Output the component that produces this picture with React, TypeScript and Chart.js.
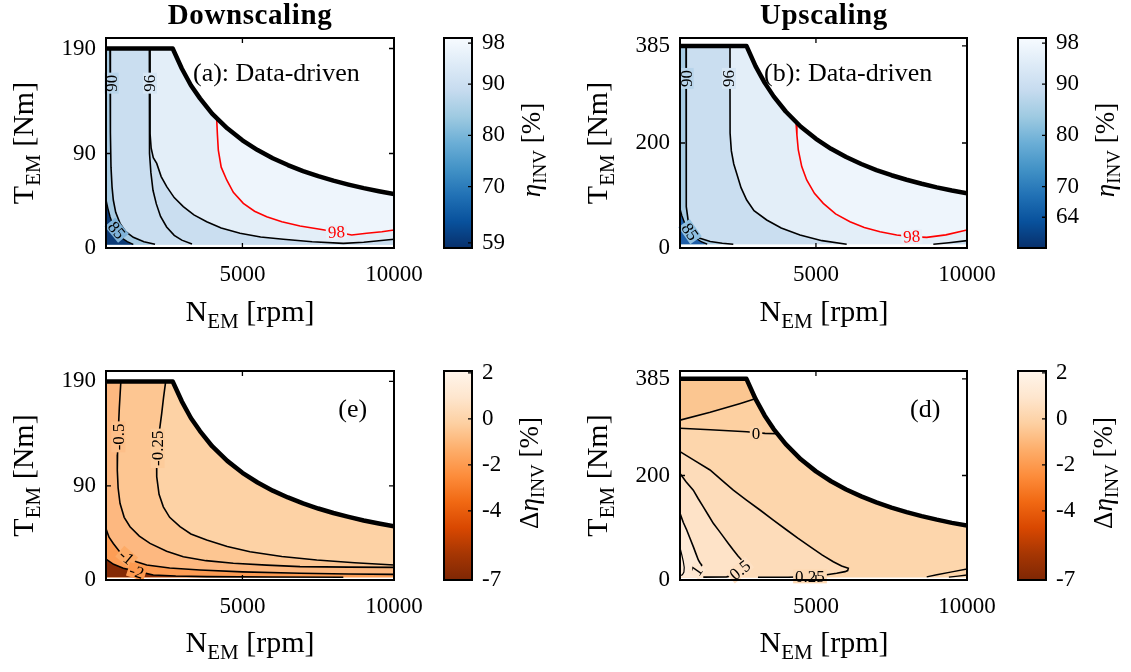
import React, { useEffect, useRef } from "react";
import { Chart, registerables } from "chart.js";

Chart.register(...registerables);

type P = [number, number];

const SERIF = '"Liberation Serif", "Times New Roman", serif';

// ---------------- shared data ----------------
const SPEED_RANGE = [500, 10000];

const ENV_N = [500, 2700, 3000, 3300, 3600, 4000, 4500, 5000, 5500, 6000, 6500, 7000, 7500, 8000, 8500, 9000, 9500, 10000];
const ENV_T_DOWN = [190, 190, 171, 155, 142.5, 128, 114, 102.6, 93.3, 85.5, 79, 73.3, 68.4, 64.1, 60.4, 57, 54, 51.3];
const ENV_T_UP = [385, 385, 346.5, 315, 288.8, 260, 231, 207.9, 189, 173.3, 160, 148.5, 138.6, 130, 122.3, 115.5, 109.4, 104];

const ETA_RANGE = [58, 99];
const ETA_TICKS_DOWN = [59, 70, 80, 90, 98];
const ETA_TICKS_UP = [64, 70, 80, 90, 98];
const DELTA_RANGE = [-7, 2.08];
const DELTA_TICKS = [-7, -4, -2, 0, 2];

const BLUES = ["#f7fbff", "#deebf7", "#c6dbef", "#9ecae1", "#6baed6", "#4292c6", "#2171b5", "#08519c", "#08306b"];
const ORANGES = ["#fff5eb", "#fee6ce", "#fdd0a2", "#fdae6b", "#fd8d3c", "#f16913", "#d94801", "#a63603", "#7f2704"];

// ---------------- (a) downscaling, efficiency ----------------
const A_T_TICKS = [0, 90, 190];
const A_TMIN = 3;
const A_C85: P[] = [[500, 46], [560, 38], [632, 30], [720, 22.5], [853, 15.5], [1000, 10], [1200, 6], [1400, 3.5]];
const A_C90: P[] = [[632, 190], [640, 150], [650, 110], [665, 77], [700, 58], [741, 45.7], [820, 34], [962, 23.5], [1150, 15.5], [1401, 10.2], [1750, 6], [2117, 3.5]];
const A_C95: P[] = [[1930, 190], [1930, 140], [1932, 109], [1945, 90], [1980, 72], [2050, 55], [2160, 42], [2300, 30], [2500, 20], [2750, 12], [3000, 7.5], [3337, 3.8]];
const A_C96: P[] = [[1952, 190], [1952, 140], [1955, 109], [1990, 95], [2060, 86], [2173, 80.6], [2320, 68], [2503, 58.4], [2750, 48], [3050, 39.4], [3400, 31.5], [3822, 25], [4300, 19], [4921, 14], [5600, 10.5], [6349, 8.3], [7300, 6], [8329, 4.4], [9000, 5.5], [10000, 8.3]];
const A_C98: P[] = [[4150, 123.6], [4175, 108], [4205, 93.3], [4300, 77], [4482, 64.8], [4700, 53], [5030, 42.5], [5400, 35], [5801, 29.8], [6300, 25], [6900, 21], [7560, 17.8], [8100, 15.2], [8605, 12.4], [9100, 14], [9600, 15.5], [10000, 17.1]];

// ---------------- (b) upscaling, efficiency ----------------
const B_T_TICKS = [0, 200, 385];
const B_TMIN = 7;
const B_C85: P[] = [[500, 75], [560, 62], [650, 48], [740, 38], [831, 31], [1000, 20], [1200, 12], [1400, 7.5]];
const B_C90: P[] = [[699, 385], [699, 300], [699, 200], [702, 130], [710, 100], [730, 78.7], [770, 52], [831, 34.3], [950, 25], [1162, 18.4], [1500, 12.5], [1900, 9], [2264, 7.2]];
const B_C96: P[] = [[2155, 385], [2155, 300], [2158, 218.5], [2200, 185], [2280, 160], [2377, 142], [2520, 115], [2708, 91.4], [2950, 71], [3370, 53.3], [3850, 38], [4472, 24.8], [5200, 14], [6018, 7.2]];
const B_C96R: P[] = [[8885, 7.2], [9400, 10], [10000, 14]];
const B_C98: P[] = [[4340, 239], [4370, 215], [4416, 186.7], [4530, 155], [4694, 129.5], [4950, 104], [5243, 85], [5650, 65], [6127, 50], [6600, 39], [7120, 31], [7673, 24.8], [8170, 21.6], [8666, 20.3], [9300, 25], [10000, 34.3]];

// ---------------- (e) downscaling, efficiency difference ----------------
const E_T_TICKS = [0, 90, 190];
const E_TMIN = 2.6;
const E_CM025: P[] = [[2469, 190], [2400, 175], [2338, 159.5], [2250, 140], [2193, 127.6], [2170, 110], [2173, 98.9], [2250, 82], [2391, 70], [2600, 60], [2941, 51], [3300, 44], [3822, 38.3], [4500, 32], [5250, 27], [6300, 22.5], [7451, 19.1], [8700, 16.5], [10000, 14.4]];
const E_CM05: P[] = [[990, 190], [940, 165], [906, 143.5], [880, 120], [873, 105], [900, 88], [962, 73.4], [1100, 60], [1292, 51], [1600, 42], [1952, 35], [2500, 27.5], [3050, 22.3], [3800, 18.5], [4700, 16], [5800, 14.2], [6900, 12.8], [8500, 12.3], [10000, 12.1]];
const E_CM1: P[] = [[500, 49], [600, 41], [741, 35], [950, 27], [1183, 22.3], [1500, 17.5], [1843, 14.4], [2600, 11.5], [3601, 9.6], [5000, 7.8], [6900, 6.4], [8500, 5.8], [10000, 5.4]];
const E_CM2: P[] = [[500, 20], [750, 15], [1071, 11.2], [1566, 8], [2060, 4.8], [2800, 3.8], [3822, 3.2], [6000, 2.8], [8329, 2.6]];

// ---------------- (d) upscaling, efficiency difference ----------------
const D_T_TICKS = [0, 200, 385];
const D_TMIN = 5;
const D_CM025: P[] = [[500, 306], [1500, 321], [2500, 338], [2990, 347]];
const D_C0: P[] = [[500, 290.3], [1500, 287.5], [2708, 283.8], [3314, 280.7], [3712, 280]];
const D_C025: P[] = [[500, 245.6], [1000, 228], [1493, 210.5], [1900, 190], [2265, 172], [2700, 153], [3148, 134], [3600, 114], [4032, 95.7], [4400, 80], [4803, 63.8], [5200, 48], [5574, 35], [5850, 27], [6071, 22.3], [6050, 18], [5962, 16], [5686, 12.8], [5300, 9.5], [4800, 6.5], [4080, 5.2], [3080, 5.2]];
const D_C05: P[] = [[500, 204], [700, 188], [940, 172], [1100, 156], [1271, 140], [1440, 124], [1602, 108.5], [1780, 95], [1933, 83], [2100, 70], [2264, 57.4], [2420, 46], [2540, 38.3], [2652, 32], [2620, 24], [2486, 17], [2300, 10], [2046, 6], [1271, 5.5]];
const D_C1: P[] = [[500, 127.6], [610, 110], [722, 95.7], [830, 80], [940, 63.8], [1030, 50], [1106, 38.3], [1160, 33], [1218, 28.7], [1150, 20], [1050, 15]];
const D_C2: P[] = [[500, 62], [560, 48], [610, 35], [640, 24], [630, 15], [580, 10], [500, 8.5]];
const D_CR1: P[] = [[8666, 6], [9000, 10], [9500, 15.5], [10000, 21]];
const D_CR2: P[] = [[9400, 5.5], [9700, 7.5], [10000, 9.5]];

// ---------------- helpers ----------------
const envelope = (T: number[]): P[] => ENV_N.map((n, i) => [n, T[i]] as P);
const envBetween = (T: number[], lo: number, hi: number): P[] => envelope(T).filter(([n]) => n > lo && n < hi);
const envRegion = (T: number[], tmin: number): P[] => [[ENV_N[0], tmin], ...envelope(T), [ENV_N[ENV_N.length - 1], tmin]];
const last = (a: P[]) => a[a.length - 1];

type LineSpec = { pts: P[]; color: string; width: number };
type RegionSpec = { pts: P[]; color: string };
type LabelSpec = { text: string; x: number; y: number; rot: number; color: string; bg: string };
type PanelSpec = {
  key: string;
  left: number; top: number; width: number; height: number;
  yMax: number; yTicks: number[];
  envelope: P[];
  regions: RegionSpec[];
  lines: LineSpec[];
  labels: LabelSpec[];
  note: { text: string; x: number; y: number };
};

const K = "#000000";
const RED = "#ff0000";

const PANEL_A: PanelSpec = {
  key: "a", left: 106, top: 38, width: 288, height: 210, yMax: 200, yTicks: A_T_TICKS,
  envelope: envelope(ENV_T_DOWN),
  regions: [
    { pts: envRegion(ENV_T_DOWN, A_TMIN), color: "#eef5fc" },
    { pts: [[500, 190], [2700, 190], ...envBetween(ENV_T_DOWN, 2700, A_C98[0][0]), ...A_C98, [10000, A_TMIN], [500, A_TMIN]], color: "#e3eef8" },
    { pts: [[500, 190], ...A_C96, [10000, A_TMIN], [500, A_TMIN]], color: "#cadef0" },
    { pts: [[500, 190], ...A_C90, [last(A_C90)[0], A_TMIN], [500, A_TMIN]], color: "#a7cbe3" },
    { pts: [...A_C85, [last(A_C85)[0], A_TMIN], [500, A_TMIN]], color: "#0c3b77" },
  ],
  lines: [
    { pts: A_C98, color: RED, width: 1.6 },
    { pts: A_C96, color: K, width: 1.6 },
    { pts: A_C95, color: K, width: 1.6 },
    { pts: A_C90, color: K, width: 1.6 },
    { pts: A_C85, color: K, width: 1.4 },
  ],
  labels: [
    { text: "90", x: 688, y: 157, rot: -90, color: K, bg: "#b8d4ea" },
    { text: "96", x: 1952, y: 157, rot: -90, color: K, bg: "#d6e6f4" },
    { text: "85", x: 853, y: 17, rot: 50, color: K, bg: "#7fb2d8" },
    { text: "98", x: 8100, y: 15.2, rot: -3, color: RED, bg: "#e8f1f9" },
  ],
  note: { text: "(a): Data-driven", x: 3370, y: 159 },
};

const PANEL_B: PanelSpec = {
  key: "b", left: 680, top: 38, width: 287, height: 210, yMax: 400, yTicks: B_T_TICKS,
  envelope: envelope(ENV_T_UP),
  regions: [
    { pts: envRegion(ENV_T_UP, B_TMIN), color: "#eef5fc" },
    { pts: [[500, 385], [2700, 385], ...envBetween(ENV_T_UP, 2700, B_C98[0][0]), ...B_C98, [10000, B_TMIN], [500, B_TMIN]], color: "#e3eef8" },
    { pts: [[500, 385], ...B_C96, [last(B_C96)[0], B_TMIN], [500, B_TMIN]], color: "#cadef0" },
    { pts: [...B_C96R, [10000, B_TMIN]], color: "#cadef0" },
    { pts: [[500, 385], ...B_C90, [last(B_C90)[0], B_TMIN], [500, B_TMIN]], color: "#a7cbe3" },
    { pts: [...B_C85, [last(B_C85)[0], B_TMIN], [500, B_TMIN]], color: "#1f5fa8" },
  ],
  lines: [
    { pts: B_C98, color: RED, width: 1.6 },
    { pts: B_C96, color: K, width: 1.6 },
    { pts: B_C96R, color: K, width: 1.6 },
    { pts: B_C90, color: K, width: 1.6 },
    { pts: B_C85, color: K, width: 1.4 },
  ],
  labels: [
    { text: "90", x: 722, y: 323, rot: -90, color: K, bg: "#b8d4ea" },
    { text: "96", x: 2120, y: 323, rot: -90, color: K, bg: "#d6e6f4" },
    { text: "85", x: 831, y: 31, rot: 55, color: K, bg: "#8fbfe0" },
    { text: "98", x: 8170, y: 21.6, rot: -3, color: RED, bg: "#e8f1f9" },
  ],
  note: { text: "(b): Data-driven", x: 3280, y: 318 },
};

const PANEL_E: PanelSpec = {
  key: "e", left: 106, top: 371, width: 288, height: 209, yMax: 200, yTicks: E_T_TICKS,
  envelope: envelope(ENV_T_DOWN),
  regions: [
    { pts: envRegion(ENV_T_DOWN, E_TMIN), color: "#fdd2a5" },
    { pts: [[500, 190], ...E_CM025, [10000, E_TMIN], [500, E_TMIN]], color: "#fdc692" },
    { pts: [[500, 190], ...E_CM05, [10000, E_TMIN], [500, E_TMIN]], color: "#fdb880" },
    { pts: [...E_CM1, [10000, E_TMIN], [500, E_TMIN]], color: "#fd9d55" },
    { pts: [...E_CM2, [500, E_TMIN]], color: "#842a05" },
  ],
  lines: [
    { pts: E_CM025, color: K, width: 1.6 },
    { pts: E_CM05, color: K, width: 1.6 },
    { pts: E_CM1, color: K, width: 1.6 },
    { pts: E_CM2, color: K, width: 1.6 },
  ],
  labels: [
    { text: "-0.5", x: 906, y: 137, rot: -90, color: K, bg: "#fdbf89" },
    { text: "-0.25", x: 2200, y: 126, rot: -90, color: K, bg: "#fdcc9b" },
    { text: "-1", x: 1183, y: 22, rot: 40, color: K, bg: "#fdab67" },
    { text: "-2", x: 1513, y: 8, rot: 18, color: K, bg: "#fd9a50" },
  ],
  note: { text: "(e)", x: 8160, y: 156 },
};

const PANEL_D: PanelSpec = {
  key: "d", left: 680, top: 371, width: 287, height: 209, yMax: 400, yTicks: D_T_TICKS,
  envelope: envelope(ENV_T_UP),
  regions: [
    { pts: envRegion(ENV_T_UP, D_TMIN), color: "#fdd6ac" },
    { pts: [[500, 306], ...D_CM025.slice(1), ...envBetween(ENV_T_UP, 2990, 3712), ...[...D_C0].reverse()], color: "#fdd0a1" },
    { pts: [[500, 385], [2700, 385], ...[...D_CM025].reverse()], color: "#fbc691" },
    { pts: [...D_C025, [last(D_C025)[0], D_TMIN], [500, D_TMIN]], color: "#fddcba" },
    { pts: [...D_C05, [last(D_C05)[0], D_TMIN], [500, D_TMIN]], color: "#fee3c8" },
    { pts: [...D_C1, [last(D_C1)[0], D_TMIN], [500, D_TMIN]], color: "#feead7" },
  ],
  lines: [
    { pts: D_CM025, color: K, width: 1.6 },
    { pts: D_C0, color: K, width: 1.6 },
    { pts: D_C025, color: K, width: 1.6 },
    { pts: D_C05, color: K, width: 1.6 },
    { pts: D_C1, color: K, width: 1.6 },
    { pts: D_C2, color: K, width: 1.2 },
    { pts: D_CR1, color: K, width: 1.4 },
    { pts: D_CR2, color: K, width: 1.4 },
  ],
  labels: [
    { text: "0", x: 3016, y: 281, rot: 0, color: K, bg: "#fdd3a7" },
    { text: "0.5", x: 2486, y: 19, rot: -40, color: K, bg: "#fee0c2" },
    { text: "1", x: 1053, y: 18, rot: -55, color: K, bg: "#fee7d0" },
    { text: "0.25", x: 4803, y: 7, rot: 0, color: K, bg: "#fdd9b4" },
  ],
  note: { text: "(d)", x: 8113, y: 312 },
};

const PANELS = [PANEL_A, PANEL_B, PANEL_E, PANEL_D];

type CbSpec = { key: string; left: number; top: number; width: number; height: number; range: number[]; ticks: number[]; cmap: string[] };
const COLORBARS: CbSpec[] = [
  { key: "cba", left: 443, top: 38, width: 29, height: 210, range: ETA_RANGE, ticks: ETA_TICKS_DOWN, cmap: BLUES },
  { key: "cbb", left: 1017, top: 38, width: 29, height: 210, range: ETA_RANGE, ticks: ETA_TICKS_UP, cmap: BLUES },
  { key: "cbe", left: 443, top: 371, width: 29, height: 209, range: DELTA_RANGE, ticks: DELTA_TICKS, cmap: ORANGES },
  { key: "cbd", left: 1017, top: 371, width: 29, height: 209, range: DELTA_RANGE, ticks: DELTA_TICKS, cmap: ORANGES },
];

// ---------------- layout constants ----------------
const Y_AXIS_W = 70;
const X_AXIS_H = 45;
const PAD_TOP = 16;
const PAD_RIGHT = 40;
const TICK_FONT = { family: SERIF, size: 23 };
const LABEL_FONT = 17;

function PanelChart({ spec }: { spec: PanelSpec }) {
  const ref = useRef<HTMLCanvasElement>(null);
  const cw = spec.width + Y_AXIS_W + PAD_RIGHT;
  const ch = spec.height + PAD_TOP + X_AXIS_H;
  useEffect(() => {
    const canvas = ref.current;
    if (!canvas) return;
    const mk = (pts: P[]) => pts.map(([x, y]) => ({ x, y }));
    const datasets: any[] = [];
    datasets.push({
      data: mk(spec.envelope), borderColor: K, borderWidth: 4.5, pointRadius: 0, fill: false,
      borderJoinStyle: "round", borderCapStyle: "butt", tension: 0,
    });
    spec.lines.forEach((l) =>
      datasets.push({ data: mk(l.pts), borderColor: l.color, borderWidth: l.width, pointRadius: 0, fill: false, tension: 0 })
    );
    [...spec.regions].reverse().forEach((r) =>
      datasets.push({
        data: mk(r.pts), borderColor: "rgba(0,0,0,0)", borderWidth: 0, backgroundColor: r.color,
        pointRadius: 0, fill: "shape", tension: 0,
      })
    );

    const deco = {
      id: "deco",
      afterDatasetsDraw(chart: any) {
        const { ctx, scales } = chart;
        const xs = scales.x, ys = scales.y;
        ctx.save();
        for (const lb of spec.labels) {
          const px = xs.getPixelForValue(lb.x), py = ys.getPixelForValue(lb.y);
          ctx.save();
          ctx.translate(px, py);
          ctx.rotate((lb.rot * Math.PI) / 180);
          ctx.font = `${LABEL_FONT}px ${SERIF}`;
          const w = ctx.measureText(lb.text).width;
          ctx.fillStyle = lb.bg;
          ctx.fillRect(-w / 2 - 2, -7, w + 4, 14);
          ctx.fillStyle = lb.color;
          ctx.textAlign = "center";
          ctx.textBaseline = "middle";
          ctx.fillText(lb.text, 0, 1);
          ctx.restore();
        }
        ctx.font = `26px ${SERIF}`;
        ctx.fillStyle = K;
        ctx.textAlign = "left";
        ctx.textBaseline = "alphabetic";
        ctx.fillText(spec.note.text, xs.getPixelForValue(spec.note.x), ys.getPixelForValue(spec.note.y));
        ctx.restore();
      },
      afterDraw(chart: any) {
        const { ctx, chartArea: a, scales } = chart;
        ctx.save();
        ctx.strokeStyle = K;
        ctx.lineWidth = 2;
        ctx.strokeRect(a.left, a.top, a.right - a.left, a.bottom - a.top);
        ctx.lineWidth = 1.3;
        const L = 5;
        ctx.beginPath();
        for (const t of scales.x.ticks) {
          const px = scales.x.getPixelForValue(t.value);
          ctx.moveTo(px, a.bottom); ctx.lineTo(px, a.bottom - L);
          ctx.moveTo(px, a.top); ctx.lineTo(px, a.top + L);
        }
        for (const t of scales.y.ticks) {
          const py = scales.y.getPixelForValue(t.value);
          ctx.moveTo(a.left, py); ctx.lineTo(a.left + L, py);
          ctx.moveTo(a.right, py); ctx.lineTo(a.right - L, py);
        }
        ctx.stroke();
        ctx.restore();
      },
    };

    const chart = new Chart(canvas, {
      type: "line",
      data: { datasets },
      options: {
        responsive: false,
        maintainAspectRatio: false,
        animation: false,
        events: [],
        layout: { padding: { left: 0, top: PAD_TOP, right: PAD_RIGHT, bottom: 0 } },
        plugins: { legend: { display: false }, tooltip: { enabled: false } },
        scales: {
          x: {
            type: "linear", min: SPEED_RANGE[0], max: SPEED_RANGE[1],
            afterBuildTicks: (s: any) => { s.ticks = [5000, 10000].map((v) => ({ value: v })); },
            afterFit: (s: any) => { s.height = X_AXIS_H; s.paddingLeft = 0; s.paddingRight = 0; },
            grid: { display: false, drawTicks: false },
            border: { display: false },
            ticks: { color: K, font: TICK_FONT, padding: 13, maxRotation: 0, autoSkip: false, callback: (v: any) => String(v) },
          },
          y: {
            type: "linear", min: 0, max: spec.yMax,
            afterBuildTicks: (s: any) => { s.ticks = spec.yTicks.map((v) => ({ value: v })); },
            afterFit: (s: any) => { s.width = Y_AXIS_W; s.paddingTop = 0; s.paddingBottom = 0; },
            grid: { display: false, drawTicks: false },
            border: { display: false },
            ticks: { color: K, font: TICK_FONT, padding: 10, autoSkip: false, callback: (v: any) => String(v) },
          },
        },
      } as any,
      plugins: [deco as any],
    });
    return () => chart.destroy();
  }, [spec]);
  return (
    <canvas
      ref={ref}
      width={cw}
      height={ch}
      style={{ position: "absolute", left: spec.left - Y_AXIS_W, top: spec.top - PAD_TOP, width: cw, height: ch }}
    />
  );
}

const CB_AXIS_W = 60;
const CB_PAD = 16;

function Colorbar({ spec }: { spec: CbSpec }) {
  const ref = useRef<HTMLCanvasElement>(null);
  const cw = spec.width + CB_AXIS_W;
  const ch = spec.height + 2 * CB_PAD;
  useEffect(() => {
    const canvas = ref.current;
    if (!canvas) return;
    const [mn, mx] = spec.range;
    const frame = {
      id: "cbframe",
      afterDraw(chart: any) {
        const { ctx, chartArea: a, scales } = chart;
        ctx.save();
        ctx.strokeStyle = K;
        ctx.lineWidth = 2;
        ctx.strokeRect(a.left + 1, a.top, a.right - a.left - 1, a.bottom - a.top);
        ctx.lineWidth = 1.3;
        ctx.beginPath();
        for (const t of scales.y.ticks) {
          const py = scales.y.getPixelForValue(t.value);
          ctx.moveTo(a.right, py); ctx.lineTo(a.right - 4, py);
        }
        ctx.stroke();
        ctx.restore();
      },
    };
    const chart = new Chart(canvas, {
      type: "bar",
      data: {
        labels: [""],
        datasets: [{
          data: [[mn, mx]],
          backgroundColor: (c: any) => {
            const ch2 = c.chart;
            const ys = ch2.scales && ch2.scales.y;
            if (!ch2.chartArea || !ys) return spec.cmap[4];
            const g = ch2.ctx.createLinearGradient(0, ys.getPixelForValue(mx), 0, ys.getPixelForValue(mn));
            spec.cmap.forEach((col, i) => g.addColorStop(i / (spec.cmap.length - 1), col));
            return g;
          },
          borderWidth: 0,
          barPercentage: 1,
          categoryPercentage: 1,
        }],
      },
      options: {
        responsive: false,
        maintainAspectRatio: false,
        animation: false,
        events: [],
        layout: { padding: { left: 0, top: CB_PAD, right: 0, bottom: CB_PAD } },
        plugins: { legend: { display: false }, tooltip: { enabled: false } },
        scales: {
          x: { display: false },
          y: {
            position: "right", min: mn, max: mx,
            afterBuildTicks: (s: any) => { s.ticks = spec.ticks.map((v) => ({ value: v })); },
            afterFit: (s: any) => { s.width = CB_AXIS_W; s.paddingTop = 0; s.paddingBottom = 0; },
            grid: { display: false, drawTicks: false },
            border: { display: false },
            ticks: { color: K, font: TICK_FONT, padding: 10, autoSkip: false, callback: (v: any) => String(v) },
          },
        },
      } as any,
      plugins: [frame as any],
    });
    return () => chart.destroy();
  }, [spec]);
  return (
    <canvas
      ref={ref}
      width={cw}
      height={ch}
      style={{ position: "absolute", left: spec.left, top: spec.top - CB_PAD, width: cw, height: ch }}
    />
  );
}

const TITLE_FONT = 30;
const SUB_FONT = 21;

function XTitle({ x, y }: { x: number; y: number }) {
  return (
    <text x={x} y={y} textAnchor="middle" fontSize={TITLE_FONT} style={{ whiteSpace: "pre" }}>
      <tspan>N</tspan>
      <tspan fontSize={SUB_FONT} dy={7}>EM</tspan>
      <tspan dy={-7}>{" [rpm]"}</tspan>
    </text>
  );
}

function YTitle({ x, y }: { x: number; y: number }) {
  return (
    <text transform={`translate(${x},${y}) rotate(-90)`} textAnchor="middle" fontSize={TITLE_FONT} style={{ whiteSpace: "pre" }}>
      <tspan>T</tspan>
      <tspan fontSize={SUB_FONT} dy={7}>EM</tspan>
      <tspan dy={-7}>{" [Nm]"}</tspan>
    </text>
  );
}

function CbTitle({ x, y, delta }: { x: number; y: number; delta: boolean }) {
  return (
    <text transform={`translate(${x},${y}) rotate(-90)`} textAnchor="middle" fontSize={27} style={{ whiteSpace: "pre" }}>
      {delta ? <tspan>Δ</tspan> : null}
      <tspan fontStyle="italic">η</tspan>
      <tspan fontSize={19} dy={6}>INV</tspan>
      <tspan dy={-6}>{" [%]"}</tspan>
    </text>
  );
}

export default function App() {
  return (
    <div style={{ position: "absolute", left: 0, top: 0, width: 1131, height: 672, background: "#ffffff", overflow: "hidden" }}>
      {PANELS.map((p) => <PanelChart key={p.key} spec={p} />)}
      {COLORBARS.map((c) => <Colorbar key={c.key} spec={c} />)}
      <svg width={1131} height={672} style={{ position: "absolute", left: 0, top: 0, pointerEvents: "none" }} fontFamily={SERIF} fill="#000">
        <text x={250} y={23.5} textAnchor="middle" fontSize={29} fontWeight="bold" letterSpacing={0.6}>Downscaling</text>
        <text x={824} y={23.5} textAnchor="middle" fontSize={29} fontWeight="bold" letterSpacing={0.6}>Upscaling</text>
        <XTitle x={250} y={321} />
        <XTitle x={824} y={321} />
        <XTitle x={250} y={652} />
        <XTitle x={824} y={652} />
        <YTitle x={33} y={143} />
        <YTitle x={607} y={143} />
        <YTitle x={33} y={475.5} />
        <YTitle x={607} y={475.5} />
        <CbTitle x={540} y={150} delta={false} />
        <CbTitle x={1114} y={150} delta={false} />
        <CbTitle x={538} y={473} delta={true} />
        <CbTitle x={1112} y={473} delta={true} />
      </svg>
    </div>
  );
}
